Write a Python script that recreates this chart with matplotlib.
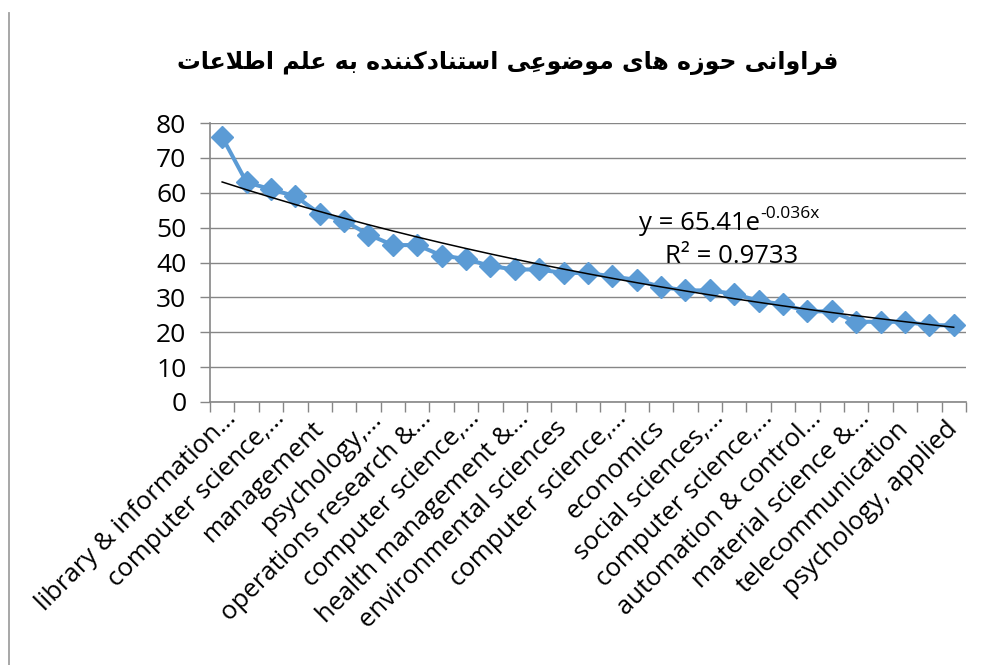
import matplotlib
matplotlib.use('Agg')
import numpy as np
import matplotlib.pyplot as plt
from matplotlib.lines import Line2D
from matplotlib.transforms import ScaledTranslation

# citations per subject area (31 categories, sorted)
values = [76, 63, 61, 59, 54, 52, 48, 45, 45, 42, 41, 39, 38, 38, 37, 37,
          36, 35, 33, 32, 32, 31, 29, 28, 26, 26, 23, 23, 23, 22, 22]

# only every other category gets a label in the original
tick_labels = ['library & information…', 'computer science,…', 'management',
               'psychology,…', 'operations research &…', 'computer science,…',
               'health management &…', 'environmental sciences',
               'computer science,…', 'economics', 'social sciences,…',
               'computer science,…', 'automation & control…',
               'material science &…', 'telecommunication', 'psychology, applied']

trend_a = 65.41
trend_b = -0.036
trend_r2 = 0.9733

title = 'فراوانی حوزه های موضوعیِ استنادکننده به علم اطلاعات'


# small arabic/persian shaper (matplotlib does no shaping or bidi)
FORMS = {
    'ا': (0xFE8D, 0xFE8E, None, None),
    'ب': (0xFE8F, 0xFE90, 0xFE91, 0xFE92),
    'ت': (0xFE95, 0xFE96, 0xFE97, 0xFE98),
    'ح': (0xFEA1, 0xFEA2, 0xFEA3, 0xFEA4),
    'د': (0xFEA9, 0xFEAA, None, None),
    'ر': (0xFEAD, 0xFEAE, None, None),
    'ز': (0xFEAF, 0xFEB0, None, None),
    'س': (0xFEB1, 0xFEB2, 0xFEB3, 0xFEB4),
    'ض': (0xFEBD, 0xFEBE, 0xFEBF, 0xFEC0),
    'ط': (0xFEC1, 0xFEC2, 0xFEC3, 0xFEC4),
    'ع': (0xFEC9, 0xFECA, 0xFECB, 0xFECC),
    'ف': (0xFED1, 0xFED2, 0xFED3, 0xFED4),
    'ك': (0xFED9, 0xFEDA, 0xFEDB, 0xFEDC),
    'ک': (0xFB8E, 0xFB8F, 0xFB90, 0xFB91),
    'ل': (0xFEDD, 0xFEDE, 0xFEDF, 0xFEE0),
    'م': (0xFEE1, 0xFEE2, 0xFEE3, 0xFEE4),
    'ن': (0xFEE5, 0xFEE6, 0xFEE7, 0xFEE8),
    'ه': (0xFEE9, 0xFEEA, 0xFEEB, 0xFEEC),
    'و': (0xFEED, 0xFEEE, None, None),
    'ي': (0xFEF1, 0xFEF2, 0xFEF3, 0xFEF4),
    'ی': (0xFBFC, 0xFBFD, 0xFBFE, 0xFBFF),
}


def is_mark(c):
    return 0x064B <= ord(c) <= 0x0652


def shape(text):
    letters = [c for c in text]
    clusters = []
    i = 0
    n = len(letters)

    def next_base(j):
        j += 1
        while j < n and is_mark(letters[j]):
            j += 1
        return j

    prev_joins = False
    while i < n:
        c = letters[i]
        if is_mark(c):
            if clusters:
                clusters[-1].append(c)
            i += 1
            continue
        if c not in FORMS:
            clusters.append([c])
            prev_joins = False
            i += 1
            continue
        j = next_base(i)
        nxt = letters[j] if j < n else None
        if c == 'ل' and nxt == 'ا':
            clusters.append([chr(0xFEFC if prev_joins else 0xFEFB)])
            prev_joins = False
            i = j + 1
            continue
        iso, fin, ini, med = FORMS[c]
        next_joins = nxt in FORMS and ini is not None
        if prev_joins and next_joins:
            g = med
        elif prev_joins:
            g = fin
        elif next_joins:
            g = ini
        else:
            g = iso
        clusters.append([chr(g)])
        prev_joins = ini is not None
        i += 1
    clusters.reverse()
    return ''.join(''.join(cl) for cl in clusters)


plt.rcParams['font.family'] = ['Open Sans', 'DejaVu Sans']

grid_color = '#868686'

fig = plt.figure(figsize=(9.96, 6.65), dpi=100)
ax = fig.add_axes([0.2108, 0.3955, 0.759, 0.4195])

x = np.arange(1, len(values) + 1)
ax.plot(x, values, color='#5B9BD5', lw=2.9, marker='D', markersize=11,
        zorder=3)

trend = trend_a * np.exp(trend_b * x)
ax.plot(x, trend, color='black', lw=1.1, zorder=4)

ax.set_xlim(0.5, len(values) + 0.5)
ax.set_ylim(0, 80)
ax.set_yticks(np.arange(0, 81, 10))
ax.yaxis.grid(True, color=grid_color, lw=1.0)
ax.set_axisbelow(True)

ax.set_xticks(np.arange(0.5, len(values) + 1, 1))
ax.set_xticklabels([])
ax.tick_params(axis='x', length=7, color=grid_color, width=1)
ax.tick_params(axis='y', length=7, color=grid_color, width=1, labelsize=19,
               pad=10)

# category labels, Excel lets the ellipsis run past the category centre
for xi, lab in zip(x[::2], tick_labels):
    dx, dy = (0, -23) if not lab.endswith('…') else (10, -13)
    tr = ax.get_xaxis_transform() + ScaledTranslation(dx / 100, dy / 100,
                                                      fig.dpi_scale_trans)
    ax.text(xi, 0, lab, transform=tr, rotation=45, ha='right', va='center',
            rotation_mode='anchor', fontsize=18.5)

for s in ['top', 'right']:
    ax.spines[s].set_visible(False)
for s in ['left', 'bottom']:
    ax.spines[s].set_color(grid_color)
    ax.spines[s].set_linewidth(1.2)

eq = ax.text(18.1, 51.2, 'y = 65.41e', ha='left', va='center', fontsize=18.5)
ax.annotate('-0.036x', xy=(1.0, 0.86), xycoords=eq, ha='left', va='center',
            fontsize=12.5)
ax.text(21.9, 41.8, 'R² = %.4f' % trend_r2, ha='center', va='center',
        fontsize=18.5)

fig.text(0.51, 0.905, shape(title), ha='center', va='center', fontsize=17,
         fontweight='bold', family='DejaVu Sans')

fig.add_artist(Line2D([0.009, 0.009], [0.0, 0.98], color='#a0a0a0', lw=1.3,
                      transform=fig.transFigure))

fig.savefig('out.png', dpi=100, facecolor='white')
plt.close()
